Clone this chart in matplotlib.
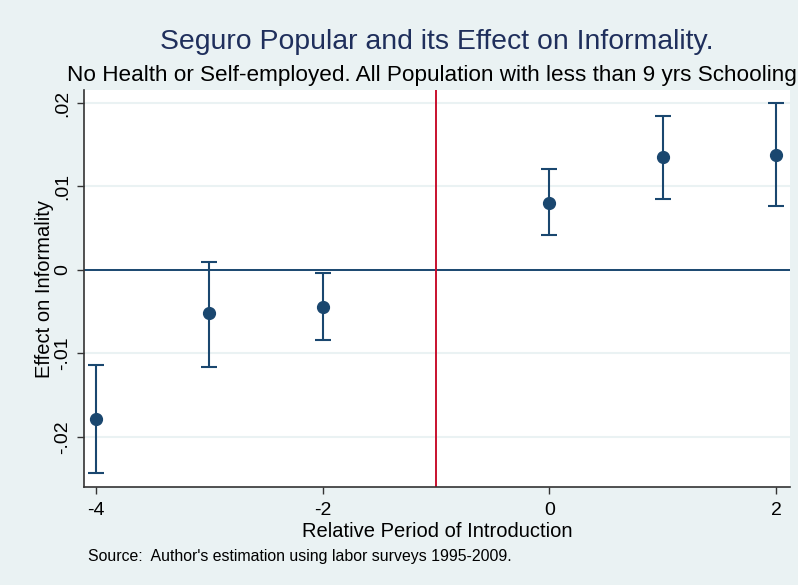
import matplotlib
matplotlib.use("Agg")
import matplotlib.pyplot as plt

periods = [-4, -3, -2, 0, 1, 2]
effects = [-0.0179, -0.00521, -0.00449, 0.00808, 0.01359, 0.01383]
upper = [-0.01144, 0.00090, -0.00042, 0.01204, 0.01844, 0.01999]
lower = [-0.02437, -0.01162, -0.00844, 0.00413, 0.00856, 0.00761]
xticks = [-4, -2, 0, 2]
xticklabels = ["-4", "-2", "0", "2"]
yticks = [-0.02, -0.01, 0, 0.01, 0.02]
yticklabels = ["-.02", "-.01", "0", ".01", ".02"]
intro_period = -1

plt.rcParams["font.family"] = ["Liberation Sans", "DejaVu Sans"]

navy = "#1a476f"
bg = "#eaf2f3"

fig = plt.figure(figsize=(7.98, 5.85), dpi=100, facecolor=bg)
ax = fig.add_axes([84/798, 1-487/585, (790-84)/798, (487-90)/585])
ax.set_facecolor("white")

ax.set_xlim(-4.106, 2.124)
ax.set_ylim(-0.026, 0.02156)

for y in yticks:
    ax.axhline(y, color=bg, lw=1.5, zorder=0)
ax.axhline(0, color=navy, lw=1.4, zorder=1)
ax.axvline(intro_period, color="#c8102e", lw=1.4, zorder=1)

yerr = [[e - l for e, l in zip(effects, lower)], [u - e for e, u in zip(effects, upper)]]
ax.errorbar(periods, effects, yerr=yerr, fmt="o", color=navy, ecolor=navy,
            markersize=8.5, elinewidth=1.5, capsize=5.5, capthick=1.5, zorder=3)

ax.set_xticks(xticks)
ax.set_xticklabels(xticklabels, fontsize=14)
ax.set_yticks(yticks)
ax.set_yticklabels(yticklabels, fontsize=14, rotation=90, va="center")
ax.tick_params(direction="out", length=5, width=1, color="#333333")
ax.tick_params(axis="x", pad=6)
ax.tick_params(axis="y", pad=4)

for s in ["top", "right"]:
    ax.spines[s].set_visible(False)
for s in ["left", "bottom"]:
    ax.spines[s].set_color("#333333")
    ax.spines[s].set_linewidth(1.2)

ax.set_xlabel("Relative Period of Introduction", fontsize=14.5, labelpad=2)
ax.set_ylabel("Effect on Informality", fontsize=14.5, labelpad=0)

fig.text(437/798, 1-42/585, "Seguro Popular and its Effect on Informality.",
         ha="center", va="center", fontsize=20.4, color="#1f2f5c")
fig.text(431.5/798, 1-75/585, "No Health or Self-employed. All Population with less than 9 yrs Schooling",
         ha="center", va="center", fontsize=16.2, color="black")
fig.text(88/798, 1-556/585, "Source:  Author's estimation using labor surveys 1995-2009.",
         ha="left", va="center", fontsize=11.4, color="black")

fig.savefig("out.png", dpi=100, facecolor=bg)
